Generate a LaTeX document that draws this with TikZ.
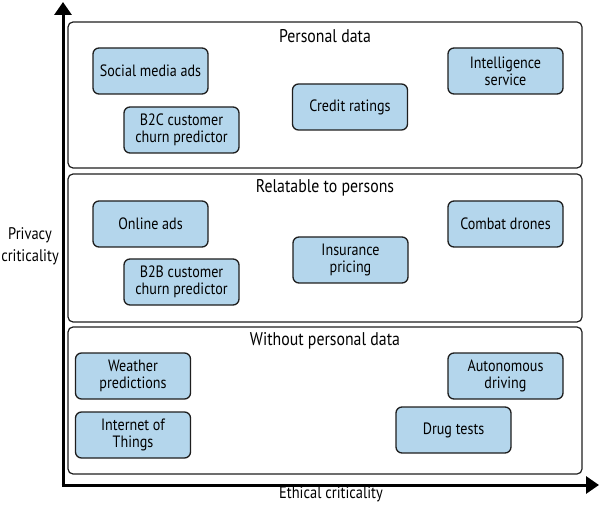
\documentclass[tikz,border=0pt]{standalone}
\usepackage{fontspec}
\setmainfont{PT Sans}[FakeStretch=0.86]
\usetikzlibrary{arrows.meta}
\definecolor{boxfill}{RGB}{180,214,236}
\definecolor{edge}{RGB}{30,30,30}
\tikzset{
  group/.style={draw=edge, line width=1.2pt, rounded corners=5pt},
  item/.style={draw=edge, fill=boxfill, line width=1.3pt, rounded corners=6pt,
    minimum width=115pt, minimum height=46pt, align=center, inner sep=1pt,
    font=\fontsize{16.4}{17}\selectfont},
  title/.style={font=\fontsize{18.4}{20}\selectfont, anchor=center},
  axis/.style={line width=3pt, -{Triangle[width=17pt,length=13pt]}},
  axlabel/.style={font=\fontsize{16.8}{22}\selectfont, align=center}
}
\begin{document}
\begin{tikzpicture}[x=1pt,y=-1pt]
\useasboundingbox (0,0) rectangle (600,505);
% groups
\draw[group] (68,22) rectangle (582,168);
\draw[group] (68,174) rectangle (582,322);
\draw[group] (68,327) rectangle (582,474);
\node[title] (t1) at (325,36) {Personal data};
\node[title] (t2) at (325,188) {Relatable to persons};
\node[title] (t3) at (325,341) {Without personal data};
% items
\node[item] (sma) at (150.5,71) {Social media ads};
\node[item] (b2c) at (181.5,130) {B2C customer\\churn predictor};
\node[item] (cr) at (350,107) {Credit ratings};
\node[item] (is) at (505.5,71) {Intelligence\\service};
\node[item] (oa) at (150.5,224) {Online ads};
\node[item] (b2b) at (181.5,282) {B2B customer\\churn predictor};
\node[item] (ip) at (350.5,260) {Insurance\\pricing};
\node[item] (cd) at (505.5,224) {Combat drones};
\node[item] (wp) at (133,376) {Weather\\predictions};
\node[item] (iot) at (133,435) {Internet of\\Things};
\node[item] (ad) at (505.5,376) {Autonomous\\driving};
\node[item] (dt) at (453.5,430) {Drug tests};
% axes
\coordinate (ytip) at (63,2);
\coordinate (xtip) at (599,485);
\draw[axis] (63,486.5) -- (ytip);
\draw[axis] (61.5,485) -- (xtip);
\node[axlabel] (yl) at (30,246) {Privacy\\criticality};
\node[axlabel] (xl) at (331,494) {Ethical criticality};
\end{tikzpicture}
\end{document}
